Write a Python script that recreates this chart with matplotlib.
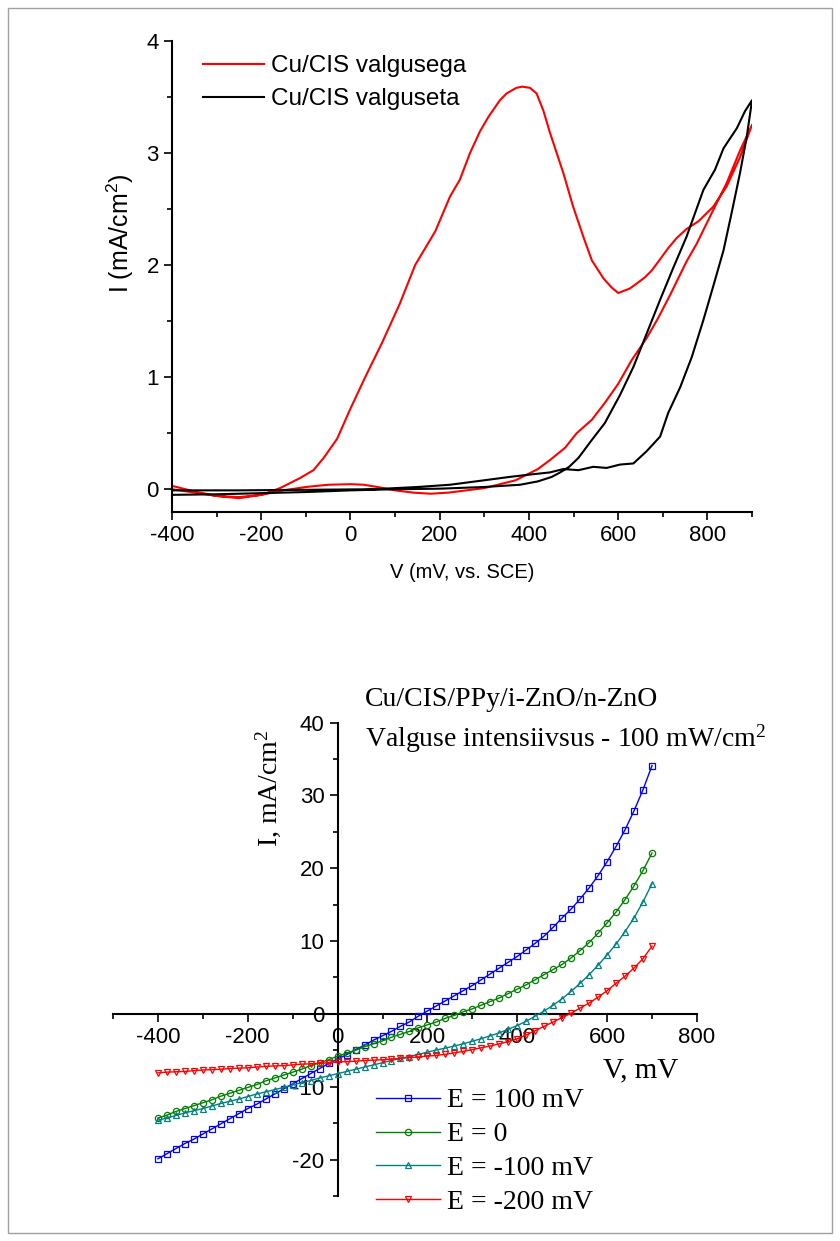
import matplotlib.pyplot as plt
from matplotlib.ticker import MultipleLocator
from matplotlib.patches import Rectangle

# ---- top panel: CV scans (mV vs SCE, mA/cm2), forward then reverse ----
light_v = [-400, -350, -300, -250, -200, -150, -100, -50, 0, 30, 60, 100, 140, 180, 220,
           260, 300, 340, 370, 400, 420, 447, 481, 507, 541, 570, 600, 630, 664, 690,
           716, 753, 776, 813, 843, 873, 900,
           873, 843, 813, 780, 753, 731, 712, 690, 675, 660, 640, 626, 600, 585, 567,
           541, 522, 499, 477, 447, 432, 417, 402, 385, 372, 350, 335, 309, 290, 268,
           245, 223, 190, 145, 110, 70, 33, 0, -30, -60, -83, -113, -158, -200, -250,
           -300, -350, -400]
light_i = [0.00, -0.03, -0.06, -0.07, -0.05, -0.01, 0.02, 0.04, 0.045, 0.04, 0.02, -0.01,
           -0.03, -0.04, -0.03, -0.01, 0.01, 0.05, 0.08, 0.14, 0.18, 0.26, 0.37, 0.50,
           0.62, 0.77, 0.94, 1.15, 1.35, 1.53, 1.73, 2.03, 2.19, 2.49, 2.73, 3.02, 3.25,
           2.96, 2.70, 2.52, 2.39, 2.32, 2.24, 2.15, 2.03, 1.95, 1.89, 1.83, 1.79, 1.75,
           1.80, 1.88, 2.04, 2.25, 2.52, 2.82, 3.18, 3.38, 3.53, 3.58, 3.59, 3.58, 3.53,
           3.47, 3.32, 3.19, 3.00, 2.76, 2.61, 2.30, 2.00, 1.65, 1.30, 1.00, 0.72, 0.45,
           0.28, 0.17, 0.10, 0.01, -0.05, -0.08, -0.06, -0.02, 0.03]

dark_v = [-400, -300, -200, -100, 0, 100, 200, 300, 380, 420, 451, 470, 490, 511, 541,
          570, 604, 634, 664, 694, 724, 753, 791, 817, 836, 866, 884, 900,
          888, 873, 854, 836, 813, 791, 765, 739, 712, 694, 664, 634, 604, 574, 544,
          511, 477, 447, 400, 357, 300, 223, 150, 50, -100, -250, -400]
dark_i = [-0.05, -0.045, -0.035, -0.025, -0.01, 0.0, 0.005, 0.02, 0.04, 0.07, 0.11, 0.15,
          0.20, 0.28, 0.44, 0.59, 0.84, 1.09, 1.39, 1.69, 1.98, 2.25, 2.67, 2.85, 3.04,
          3.22, 3.37, 3.47,
          3.14, 2.82, 2.46, 2.13, 1.81, 1.51, 1.18, 0.91, 0.68, 0.47, 0.34, 0.23, 0.22,
          0.19, 0.20, 0.17, 0.18, 0.15, 0.13, 0.11, 0.08, 0.04, 0.02, 0.0, -0.005,
          -0.01, -0.01]

# ---- bottom panel: I-V curves at different deposition potentials ----
iv_v = list(range(-400, 701, 20))
i_e100 = [-19.9, -19.2, -18.5, -17.8, -17.2, -16.5, -15.8, -15.1, -14.4, -13.7,
          -13.0, -12.4, -11.7, -11.0, -10.3, -9.6, -8.9, -8.2, -7.5, -6.8,
          -6.2, -5.6, -4.9, -4.3, -3.6, -3.0, -2.4, -1.7, -1.1, -0.3,
          0.4, 1.1, 1.8, 2.5, 3.2, 3.9, 4.7, 5.5, 6.3, 7.1,
          7.9, 8.8, 9.7, 10.7, 11.9, 13.2, 14.4, 15.8, 17.3, 19.0,
          20.9, 23.0, 25.3, 27.9, 30.8, 34.1]
i_e0 = [-14.3, -13.9, -13.4, -13.0, -12.6, -12.2, -11.8, -11.3, -10.9, -10.5,
        -10.1, -9.7, -9.2, -8.8, -8.4, -8.0, -7.6, -7.1, -6.7, -6.3,
        -5.8, -5.4, -5.0, -4.5, -4.1, -3.7, -3.2, -2.8, -2.4, -1.9,
        -1.5, -1.1, -0.6, -0.2, 0.3, 0.7, 1.2, 1.7, 2.2, 2.8,
        3.4, 4.0, 4.7, 5.4, 6.1, 6.8, 7.7, 8.7, 9.8, 11.1,
        12.5, 14.0, 15.7, 17.6, 19.7, 22.1]
i_em100 = [-14.6, -14.3, -13.95, -13.6, -13.3, -13.0, -12.65, -12.3, -12.0, -11.7,
           -11.35, -11.0, -10.7, -10.4, -10.1, -9.75, -9.45, -9.15, -8.8, -8.5,
           -8.2, -7.9, -7.6, -7.3, -7.0, -6.7, -6.4, -6.1, -5.85, -5.55,
           -5.25, -4.95, -4.7, -4.4, -4.1, -3.75, -3.4, -3.0, -2.6, -2.1,
           -1.6, -1.0, -0.3, 0.4, 1.2, 2.1, 3.1, 4.2, 5.4, 6.7,
           8.1, 9.6, 11.3, 13.2, 15.4, 17.9]
i_em200 = [-8.1, -8.0, -7.95, -7.9, -7.8, -7.7, -7.65, -7.6, -7.5, -7.45,
           -7.4, -7.3, -7.2, -7.15, -7.1, -7.0, -6.9, -6.85, -6.8, -6.7,
           -6.6, -6.55, -6.5, -6.4, -6.35, -6.3, -6.2, -6.1, -6.0, -5.9,
           -5.8, -5.7, -5.55, -5.35, -5.15, -4.9, -4.65, -4.4, -4.1, -3.8,
           -3.4, -2.9, -2.3, -1.7, -1.1, -0.5, 0.1, 0.8, 1.5, 2.3,
           3.2, 4.2, 5.2, 6.3, 7.6, 9.3]

iv_labels = ['E = 100 mV', 'E = 0', 'E = -100 mV', 'E = -200 mV']
iv_colors = ['#0000ff', '#008000', '#008080', '#ff0000']
iv_markers = ['s', 'o', '^', 'v']

sans = ['Liberation Sans', 'DejaVu Sans']
serif = ['Liberation Serif', 'DejaVu Serif']
plt.rcParams['font.family'] = sans
plt.rcParams['axes.unicode_minus'] = False

fig = plt.figure(figsize=(8.4, 12.41), dpi=100)
fig.patches.append(Rectangle((8 / 840, 8 / 1241), 824 / 840, 1225 / 1241,
                             transform=fig.transFigure, fill=False,
                             ec='#a0a0a0', lw=1))

# top
ax1 = fig.add_axes([0.2048, 0.5877, 0.6905, 0.3795])
ax1.plot(light_v, light_i, color='#ff0000', lw=1.5, label='Cu/CIS valgusega')
ax1.plot(dark_v, dark_i, color='black', lw=1.5, label='Cu/CIS valguseta')
ax1.set_xlim(-400, 900)
ax1.set_ylim(-0.2, 4)
ax1.xaxis.set_major_locator(MultipleLocator(200))
ax1.xaxis.set_minor_locator(MultipleLocator(100))
ax1.yaxis.set_major_locator(MultipleLocator(1))
ax1.yaxis.set_minor_locator(MultipleLocator(0.5))
for s in ['top', 'right']:
    ax1.spines[s].set_visible(False)
for s in ['left', 'bottom']:
    ax1.spines[s].set_linewidth(1.5)
ax1.tick_params(which='major', length=6, width=1.2, labelsize=16)
ax1.tick_params(which='minor', length=3.5, width=1.2)
ax1.set_xlabel('V (mV, vs. SCE)', fontsize=14.5, labelpad=12)
fig.text(0.143, 0.812, r'I (mA/cm$\mathregular{^2}$)', rotation=90,
         fontsize=18, ha='center', va='center')
ax1.legend(loc='upper left', bbox_to_anchor=(203 / 840, 1 - 55 / 1241),
           bbox_transform=fig.transFigure, frameon=False, fontsize=17.5,
           handlelength=2.5, handletextpad=0.3, labelspacing=0.47,
           borderpad=0, borderaxespad=0)

# bottom
ax2 = fig.add_axes([0.1345, 0.0363, 0.6952, 0.3814])
series = [i_e100, i_e0, i_em100, i_em200]
for vals, lab, c, m in zip(series, iv_labels, iv_colors, iv_markers):
    ax2.plot(iv_v, vals, color=c, lw=1, marker=m, ms=4.5, mfc='none',
             mec=c, mew=0.9, label=lab, zorder=3)
ax2.set_xlim(-500, 800)
ax2.set_ylim(-25, 40)
ax2.xaxis.set_major_locator(MultipleLocator(200))
ax2.xaxis.set_minor_locator(MultipleLocator(100))
ax2.yaxis.set_major_locator(MultipleLocator(10))
ax2.yaxis.set_minor_locator(MultipleLocator(5))
for s in ['top', 'right']:
    ax2.spines[s].set_visible(False)
for s in ['left', 'bottom']:
    ax2.spines[s].set_position(('data', 0))
    ax2.spines[s].set_linewidth(1.5)
ax2.tick_params(which='major', length=6, width=1.2, labelsize=16)
ax2.tick_params(which='minor', length=3.5, width=1.2)

fig.text(0.718, 0.1375, 'V, mV', fontsize=21, family=serif, ha='left', va='center')
fig.text(0.319, 0.365, r'I, mA/cm$\mathregular{^2}$', fontsize=20, family=serif,
         rotation=90, ha='center', va='center')
fig.text(0.4345, 0.4311, 'Cu/CIS/PPy/i-ZnO/n-ZnO', fontsize=20, family=serif,
         ha='left', va='baseline')
fig.text(0.4345, 0.3981, r'Valguse intensiivsus - 100 mW/cm$\mathregular{^2}$',
         fontsize=20, family=serif, ha='left', va='baseline')
ax2.legend(loc='upper left', bbox_to_anchor=(376 / 840, 1 - 1088 / 1241),
           bbox_transform=fig.transFigure, frameon=False,
           prop={'family': serif, 'size': 20}, numpoints=1,
           handlelength=2.3, handletextpad=0.25, labelspacing=0.3,
           borderpad=0, borderaxespad=0)

fig.savefig('out.png', dpi=100)
